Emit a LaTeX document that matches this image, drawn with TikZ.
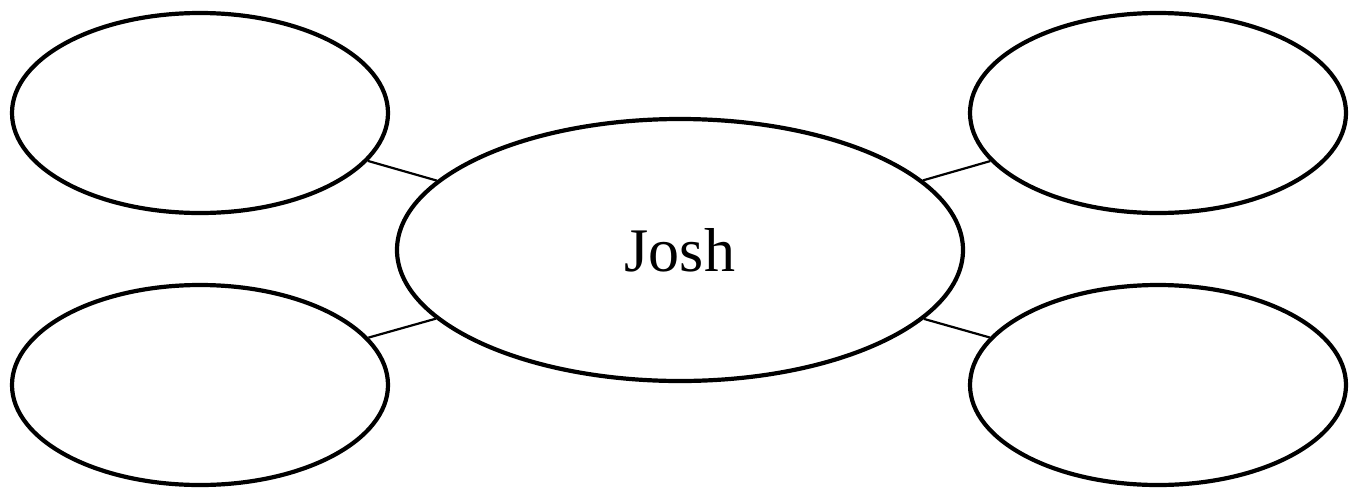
\documentclass[tikz,border=0pt]{standalone}
\usepackage{fontspec}
\setmainfont{Liberation Serif}
\usetikzlibrary{shapes.geometric}
\begin{document}
\begin{tikzpicture}[x=1pt,y=-1pt,
  bubble/.style={ellipse,draw=black,line width=4.2pt,inner sep=0pt,minimum width=376pt,minimum height=200pt},
  hub/.style={ellipse,draw=black,line width=4.2pt,inner sep=0pt,minimum width=566pt,minimum height=262pt,font=\fontsize{62}{70}\selectfont},
  link/.style={draw=black,line width=2.2pt}]
\useasboundingbox (0,0) rectangle (1357,491);
\node[hub] (c) at (680,250) {Josh};
\node[bubble] (tl) at (200,113) {};
\node[bubble] (bl) at (200,385) {};
\node[bubble] (tr) at (1158,113) {};
\node[bubble] (br) at (1158,385) {};
\draw[link] (tl) -- (c);
\draw[link] (bl) -- (c);
\draw[link] (tr) -- (c);
\draw[link] (br) -- (c);
\end{tikzpicture}
\end{document}
